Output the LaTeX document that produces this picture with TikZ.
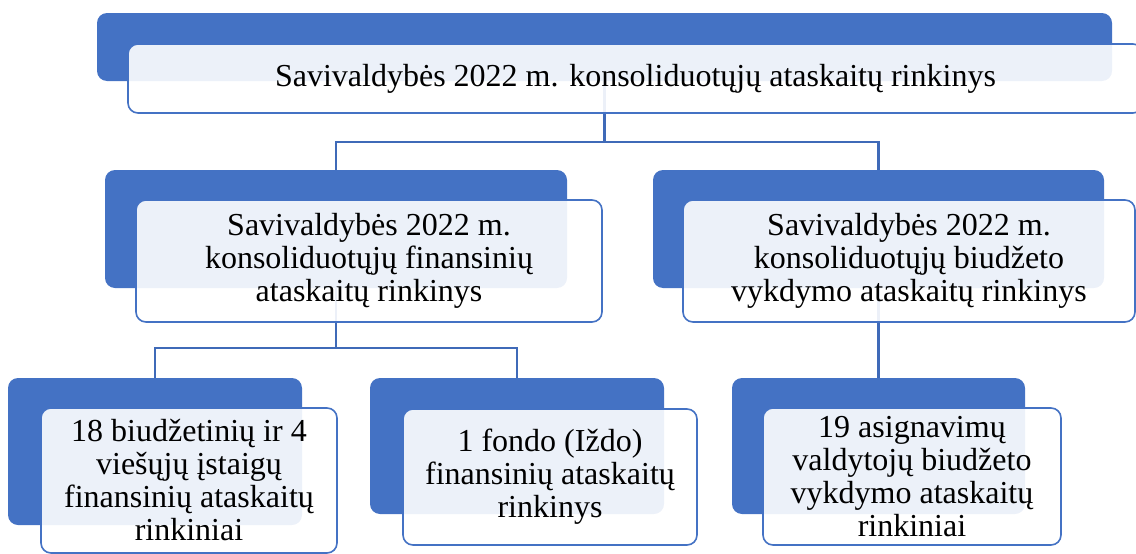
\documentclass[tikz,border=0pt]{standalone}
\usepackage{fontspec}
\setmainfont{Liberation Serif}
\usetikzlibrary{positioning}
\definecolor{ofblue}{HTML}{4472C4}
\definecolor{linkblue}{HTML}{3F6AB8}
\newcommand{\boxfont}{\fontsize{32}{33}\selectfont}

\begin{document}
\begin{tikzpicture}[
  x=1pt, y=-1pt,
  back/.style={rectangle, fill=ofblue, rounded corners=10pt, inner sep=0pt},
  front/.style={rectangle, draw=ofblue, line width=1.6pt, fill=white,
   fill opacity=0.9, text opacity=1, rounded corners=10pt, inner sep=0pt,
   align=center, font=\boxfont},
  link/.style={draw=linkblue, line width=2.4pt}
  ]
  \useasboundingbox (0,0) rectangle (1136,554);

  % junctions of the connectors
  \coordinate (j1) at (604.5,142);
  \coordinate (j2) at (336,348);

  % blue back plates
  \node[back, minimum width=1015pt, minimum height=68pt] (topB) at (604.5,47) {};
  \node[back, minimum width=462pt, minimum height=118pt] (finB) at (336,229) {};
  \node[back, minimum width=451pt, minimum height=118pt] (budB) at (878.5,229) {};
  \node[back, minimum width=294pt, minimum height=147pt] (istB) at (155,451.5) {};
  \node[back, minimum width=294pt, minimum height=136pt] (fonB) at (517,446) {};
  \node[back, minimum width=293pt, minimum height=136pt] (asgB) at (878.5,446) {};

  % connectors
  \draw[link] (topB) -- (j1) -| (finB.north);
  \draw[link] (j1) -| (budB.north);
  \draw[link] (finB) -- (j2) -| (istB.north);
  \draw[link] (j2) -| (fonB.north);
  \draw[link] (budB) -- (asgB.north);

  % front boxes with the texts
  \node[front, minimum width=1015pt, minimum height=69pt] (top) at (635.5,78.5)
   {Savivaldybės 2022 m. konsoliduotųjų ataskaitų rinkinys};
  \node[front, minimum width=466pt, minimum height=122pt] (fin) at (369,261)
   {Savivaldybės 2022 m.\\ konsoliduotųjų finansinių\\ ataskaitų rinkinys};
  \node[front, minimum width=452pt, minimum height=122pt] (bud) at (909,261)
   {Savivaldybės 2022 m.\\ konsoliduotųjų biudžeto\\ vykdymo ataskaitų rinkinys};
  \node[front, minimum width=296pt, minimum height=145pt] (ist) at (189,480.5)
   {18 biudžetinių ir 4\\ viešųjų įstaigų\\ finansinių ataskaitų\\ rinkiniai};
  \node[front, minimum width=294pt, minimum height=136pt] (fon) at (550,477)
   {1 fondo (Iždo)\\ finansinių ataskaitų\\ rinkinys};
  \node[front, minimum width=298pt, minimum height=137pt] (asg) at (912,476.5)
   {19 asignavimų\\ valdytojų biudžeto\\ vykdymo ataskaitų\\ rinkiniai};
\end{tikzpicture}
\end{document}
